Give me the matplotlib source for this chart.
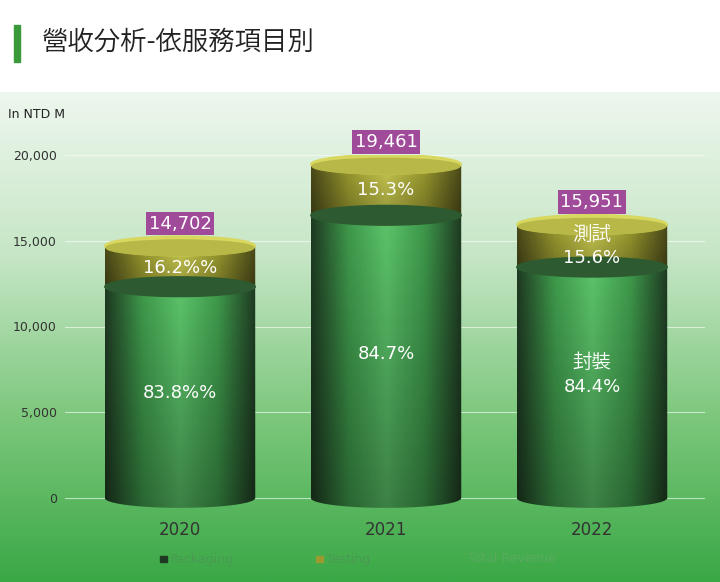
import numpy as np
import matplotlib
matplotlib.use("Agg")
import matplotlib.pyplot as plt
from matplotlib import font_manager as fm
from matplotlib.patches import Ellipse, Rectangle
from matplotlib.path import Path
from matplotlib.colors import LinearSegmentedColormap

years = ["2020", "2021", "2022"]
totals = [14702, 19461, 15951]
pack_pct = [83.8, 84.7, 84.4]
test_pct = [16.2, 15.3, 15.6]
pack_labels = ["83.8%%", "84.7%", "84.4%"]
test_labels = ["16.2%%", "15.3%", "15.6%"]
yticks = [0, 5000, 10000, 15000, 20000]

cjk = None
for f in fm.fontManager.ttflist:
    if "CJK" in f.name and ("TC" in f.name or cjk is None):
        cjk = f.fname
        if "TC" in f.name:
            break
cjkfp = fm.FontProperties(fname=cjk) if cjk else fm.FontProperties()

W, H = 720, 582
fig = plt.figure(figsize=(W/100, H/100), dpi=100)

fig.patches.append(Rectangle((14/W, 1-62/H), 6/W, 37/H, transform=fig.transFigure, color="#3a9a3a"))
fig.text(42/W, 1-42/H, "營收分析-依服務項目別", fontproperties=cjkfp, fontsize=19, va="center", color="#222222")

bg = fig.add_axes([0, 0, 1, (H-92)/H])
g = np.linspace(0, 1, 256)[:, None]
bgcm = LinearSegmentedColormap.from_list("bg", ["#eef7ee", "#c6e6c6", "#7cc77c", "#3aa845"])
bg.imshow(g, aspect="auto", cmap=bgcm, extent=[0, 1, 0, 1], origin="upper")
bg.set_axis_off()

x0, x1 = 65, 705
ymin = -1000
pxu = 343 / 20000
ybot = 498 + (-ymin) * pxu
ax = fig.add_axes([x0/W, 1-ybot/H, (x1-x0)/W, (ybot-155)/H])
ax.set_ylim(ymin, 20000)
ax.set_xlim((x0-180)/206, (x1-180)/206)
ax.patch.set_alpha(0)
for s in ax.spines.values():
    s.set_visible(False)
ax.set_yticks(yticks)
ax.set_yticklabels([f"{v:,}" for v in yticks], fontsize=9, color="#333333")
ax.tick_params(axis="y", length=0, pad=6)
ax.set_xticks(range(3))
ax.set_xticklabels(years, fontsize=12, color="#333333")
ax.tick_params(axis="x", length=0, pad=4)
for v in yticks:
    ax.axhline(v, color="white", lw=0.8, alpha=0.6, zorder=0)
fig.text(8/W, 1-115/H, "In NTD M", fontsize=9, color="#222222", va="center")

bw = 0.73
eh = 1150
barcm_g = LinearSegmentedColormap.from_list("g", ["#1f3a22", "#3f9a4c", "#5cc46a", "#3f9a4c", "#1f3a22"])
barcm_y = LinearSegmentedColormap.from_list("y", ["#4a4a1a", "#9a9a30", "#c8c850", "#9a9a30", "#4a4a1a"])
hg = np.linspace(0, 1, 256)[None, :]

def segment(xc, y0, y1, cm, z):
    xl, xr = xc - bw/2, xc + bw/2
    t = np.linspace(0, np.pi, 40)
    verts = [(xl, y1), (xr, y1)] + [(xc + bw/2*np.cos(a), y0 - eh/2*np.sin(a)) for a in t] + [(xl, y1)]
    codes = [Path.MOVETO] + [Path.LINETO]*(len(verts)-2) + [Path.CLOSEPOLY]
    im = ax.imshow(hg, aspect="auto", cmap=cm, extent=[xl, xr, y0-eh, y1], zorder=z)
    im.set_clip_path(Path(verts, codes), transform=ax.transData)
    sh = ax.imshow(np.linspace(0, 1, 64)[:, None], aspect="auto", origin="lower",
                   cmap=LinearSegmentedColormap.from_list("s", [(0, 0, 0, 0.35), (0, 0, 0, 0)]),
                   extent=[xl, xr, y0-eh, y1], zorder=z+0.1)
    sh.set_clip_path(Path(verts, codes), transform=ax.transData)

test_y = [13400, 17960, 14000]
pack_y = [6100, 8400, 6500]
for i, tot in enumerate(totals):
    p = tot * pack_pct[i] / 100
    segment(i, 0, p, barcm_g, 2)
    segment(i, p, tot, barcm_y, 3)
    ax.add_patch(Ellipse((i, p), bw, eh, color="#2d5a30", zorder=3.5))
    ax.add_patch(Ellipse((i, tot), bw, eh, color="#d8d860", zorder=4))
    ax.add_patch(Ellipse((i, tot - eh*0.1), bw*0.98, eh*0.8, color="#b8b848", zorder=4.1))
    ax.text(i, test_y[i], test_labels[i], fontsize=13, color="white", ha="center", va="center", zorder=6)
    ax.text(i, pack_y[i], pack_labels[i], fontsize=13, color="white", ha="center", va="center", zorder=6)
    ax.text(i, tot + 1300, f"{tot:,}", fontsize=13, color="white", ha="center", va="center", zorder=6,
            bbox=dict(boxstyle="square,pad=0.15", fc="#a04a9a", ec="none"))

ax.text(2, 15350, "測試", fontproperties=cjkfp, fontsize=14, color="white", ha="center", va="center", zorder=6)
ax.text(2, 7900, "封裝", fontproperties=cjkfp, fontsize=14, color="white", ha="center", va="center", zorder=6)

ly = 1 - 559/H
fig.patches.append(Rectangle((160/W, ly-3/H), 7/W, 6/H, transform=fig.transFigure, color="#1f3a22"))
fig.text(170/W, ly, "Packaging", fontsize=9, color="#4a9a55", va="center")
fig.patches.append(Rectangle((316/W, ly-3/H), 7/W, 6/H, transform=fig.transFigure, color="#9a9a30"))
fig.text(326/W, ly, "Testing", fontsize=9, color="#4a9a55", va="center")
fig.text(468/W, ly, "Total Revenue", fontsize=9, color="#5aaa60", va="center")

fig.savefig("out.png", dpi=100)
